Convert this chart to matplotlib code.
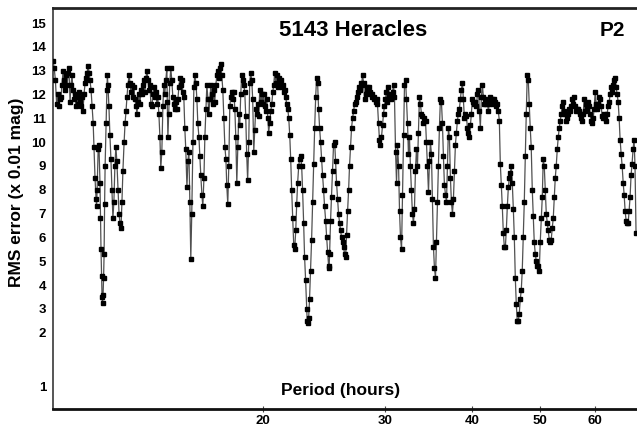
import matplotlib
matplotlib.use('Agg')
import matplotlib.pyplot as plt
import numpy as np
from matplotlib.ticker import FixedLocator, FixedFormatter, NullLocator

plt.rcParams['font.family'] = ['Liberation Sans', 'DejaVu Sans']

# period search result: trial period (hours) vs RMS error (x 0.01 mag)
period_h = [
    10.00, 10.04, 10.08, 10.12, 10.15, 10.19, 10.23,
    10.27, 10.30, 10.34, 10.37, 10.41, 10.44, 10.48, 10.51, 10.54, 10.58,
    10.61, 10.65, 10.68, 10.72, 10.75, 10.79, 10.83, 10.86, 10.90, 10.93,
    10.97, 11.01, 11.04, 11.08, 11.12, 11.16, 11.19, 11.23, 11.27, 11.30,
    11.34, 11.38, 11.42, 11.45, 11.49, 11.53, 11.55, 11.57, 11.61, 11.64, 11.68, 11.70,
    11.72, 11.74, 11.76, 11.78, 11.80, 11.82, 11.84, 11.86, 11.88, 11.92, 11.95, 11.97, 11.99, 12.03, 12.07,
    12.11, 12.15, 12.19, 12.23, 12.27, 12.31, 12.35, 12.40, 12.44, 12.48,
    12.52, 12.56, 12.60, 12.65, 12.69, 12.73, 12.77, 12.81, 12.86, 12.90,
    12.94, 12.98, 13.03, 13.07, 13.11, 13.16, 13.20, 13.24, 13.29, 13.33,
    13.37, 13.42, 13.46, 13.51, 13.55, 13.60, 13.64, 13.69, 13.73, 13.78,
    13.82, 13.87, 13.91, 13.96, 14.00, 14.05, 14.10, 14.14, 14.19, 14.24,
    14.28, 14.33, 14.38, 14.42, 14.47, 14.52, 14.57, 14.59, 14.62, 14.66, 14.71,
    14.76, 14.81, 14.86, 14.91, 14.96, 15.01, 15.06, 15.11, 15.16, 15.21,
    15.26, 15.31, 15.36, 15.41, 15.46, 15.51, 15.57, 15.62, 15.67, 15.72,
    15.77, 15.82, 15.88, 15.93, 15.98, 16.04, 16.09, 16.14, 16.20, 16.25,
    16.30, 16.36, 16.41, 16.47, 16.52, 16.58, 16.63, 16.69, 16.74, 16.80,
    16.85, 16.91, 16.96, 17.02, 17.07, 17.13, 17.19, 17.24, 17.30, 17.35,
    17.41, 17.47, 17.53, 17.59, 17.65, 17.71, 17.76, 17.82, 17.88, 17.94,
    18.00, 18.06, 18.12, 18.18, 18.24, 18.30, 18.36, 18.42, 18.48, 18.54,
    18.60, 18.66, 18.72, 18.79, 18.85, 18.91, 18.97, 19.03, 19.10, 19.16,
    19.22, 19.29, 19.35, 19.42, 19.48, 19.55, 19.61, 19.68, 19.74, 19.81,
    19.87, 19.94, 20.00, 20.07, 20.13, 20.20, 20.27, 20.34, 20.40, 20.47,
    20.54, 20.61, 20.68, 20.74, 20.81, 20.88, 20.95, 21.02, 21.09, 21.15,
    21.22, 21.29, 21.37, 21.44, 21.51, 21.58, 21.65, 21.73, 21.80, 21.87,
    21.94, 22.01, 22.09, 22.16, 22.23, 22.31, 22.38, 22.45, 22.53, 22.60,
    22.67, 22.75, 22.82, 22.90, 22.97, 23.05, 23.13, 23.17, 23.20, 23.28, 23.35,
    23.43, 23.51, 23.59, 23.67, 23.75, 23.83, 23.90, 23.98, 24.06, 24.14,
    24.22, 24.30, 24.38, 24.46, 24.54, 24.63, 24.71, 24.79, 24.87, 24.91, 24.95,
    25.03, 25.11, 25.20, 25.28, 25.37, 25.45, 25.53, 25.62, 25.70, 25.79,
    25.87, 25.96, 26.05, 26.13, 26.22, 26.31, 26.39, 26.48, 26.57, 26.65,
    26.74, 26.83, 26.92, 27.01, 27.10, 27.19, 27.28, 27.37, 27.46, 27.55,
    27.64, 27.73, 27.82, 27.92, 28.01, 28.10, 28.19, 28.28, 28.38, 28.47,
    28.56, 28.66, 28.75, 28.85, 28.94, 29.04, 29.14, 29.23, 29.33, 29.42,
    29.52, 29.62, 29.72, 29.82, 29.91, 30.01, 30.11, 30.21, 30.31, 30.41,
    30.51, 30.61, 30.72, 30.82, 30.92, 31.03, 31.13, 31.23, 31.34, 31.44,
    31.54, 31.65, 31.75, 31.86, 31.96, 32.07, 32.17, 32.28, 32.38, 32.49,
    32.59, 32.70, 32.81, 32.92, 33.03, 33.14, 33.25, 33.36, 33.47, 33.58,
    33.69, 33.80, 33.92, 34.03, 34.14, 34.26, 34.37, 34.48, 34.60, 34.71,
    34.82, 34.94, 35.05, 35.17, 35.29, 35.41, 35.52, 35.64, 35.76, 35.87,
    35.99, 36.11, 36.23, 36.35, 36.47, 36.60, 36.72, 36.84, 36.96, 37.08,
    37.20, 37.32, 37.45, 37.57, 37.70, 37.82, 37.94, 38.07, 38.19, 38.32,
    38.44, 38.57, 38.70, 38.83, 38.96, 39.09, 39.22, 39.35, 39.48, 39.61,
    39.74, 39.87, 40.00, 40.14, 40.27, 40.40, 40.54, 40.67, 40.81, 40.94,
    41.07, 41.21, 41.35, 41.48, 41.62, 41.76, 41.89, 42.03, 42.17, 42.30,
    42.44, 42.58, 42.73, 42.87, 43.01, 43.16, 43.30, 43.44, 43.58, 43.73,
    43.87, 44.02, 44.16, 44.31, 44.46, 44.61, 44.75, 44.90, 45.05, 45.19,
    45.34, 45.49, 45.64, 45.80, 45.95, 46.10, 46.25, 46.40, 46.56, 46.71,
    46.86, 47.02, 47.17, 47.33, 47.49, 47.65, 47.80, 47.96, 48.12, 48.27,
    48.43, 48.59, 48.76, 48.92, 49.08, 49.25, 49.41, 49.57, 49.73, 49.90,
    50.06, 50.23, 50.40, 50.56, 50.73, 50.90, 51.07, 51.24, 51.40, 51.57,
    51.74, 51.91, 52.09, 52.26, 52.44, 52.61, 52.78, 52.96, 53.13, 53.31,
    53.48, 53.66, 53.84, 54.02, 54.20, 54.38, 54.55, 54.73, 54.91, 55.09,
    55.27, 55.46, 55.64, 55.83, 56.01, 56.20, 56.38, 56.57, 56.75, 56.94,
    57.12, 57.31, 57.50, 57.70, 57.89, 58.08, 58.27, 58.46, 58.66, 58.85,
    59.04, 59.24, 59.44, 59.63, 59.83, 60.03, 60.23, 60.43, 60.62, 60.82,
    61.02, 61.23, 61.43, 61.64, 61.84, 62.05, 62.25, 62.46, 62.66, 62.87,
    63.07, 63.28, 63.50, 63.71, 63.92, 64.13, 64.34, 64.56, 64.77, 64.98,
    65.19, 65.41, 65.63, 65.85, 66.06, 66.28, 66.50, 66.72, 66.94, 67.15,
    67.37, 67.59, 67.82, 68.04, 68.26, 68.48, 68.71,
]

rms_err = [
    13.4, 13.1, 12.6, 11.6, 12.0, 11.5, 11.8,
    11.9, 12.4, 13.0, 12.6, 12.2, 12.8, 12.4, 12.9, 13.1, 11.7,
    12.4, 12.8, 12.2, 11.8, 12.0, 11.5, 11.9, 11.6, 12.1, 11.7,
    11.5, 11.9, 11.3, 12.0, 12.5, 12.7, 12.9, 13.2, 12.9, 12.6,
    12.2, 11.5, 10.8, 9.8, 8.5, 7.6, 7.3, 8.0, 9.7, 9.9, 8.3, 6.8,
    5.5, 4.4, 3.5, 3.25, 3.6, 4.3, 5.3, 7.4, 9.0, 10.8, 12.2, 12.8, 12.4, 11.5, 10.3,
    9.3, 8.0, 6.8, 7.5, 9.0, 9.8, 9.2, 8.0, 7.0, 6.6,
    6.4, 7.5, 8.8, 10.0, 10.8, 11.3, 11.9, 12.4, 12.8, 12.5,
    12.1, 12.4, 11.9, 12.3, 11.8, 11.5, 11.2, 11.7, 12.0, 11.6,
    12.2, 12.0, 12.4, 12.6, 12.1, 12.7, 13.0, 12.6, 12.2, 12.4,
    11.6, 11.5, 12.0, 12.3, 11.9, 12.1, 11.6, 11.9, 11.2, 10.2,
    8.9, 9.6, 11.5, 12.4, 12.0, 12.6, 13.1, 11.7, 10.2, 11.2, 12.5,
    13.1, 12.6, 11.9, 11.6, 11.4, 11.7, 11.4, 11.8, 12.3, 12.7,
    12.4, 12.6, 12.1, 11.9, 10.6, 9.7, 8.1, 9.2, 9.6, 7.5,
    5.1, 7.0, 10.0, 12.3, 12.8, 12.5, 11.8, 10.8, 10.2, 9.4,
    8.6, 7.8, 7.3, 8.5, 10.2, 11.4, 12.4, 11.8, 11.2, 11.8,
    12.4, 12.0, 11.6, 12.2, 11.7, 12.4, 12.8, 13.0, 12.7, 13.1,
    13.3, 12.8, 12.2, 11.0, 9.8, 9.3, 8.2, 7.4, 9.0, 11.5,
    11.9, 12.1, 11.8, 12.1, 11.4, 10.2, 8.3, 9.8, 11.2, 10.7,
    12.0, 12.8, 12.6, 12.4, 12.1, 11.1, 9.5, 8.4, 10.0, 12.5,
    12.9, 12.6, 11.8, 9.6, 10.5, 11.4, 11.2, 11.6, 11.1, 12.2,
    11.7, 12.0, 11.6, 12.0, 11.5, 11.3, 11.8, 11.0, 10.4, 10.8,
    11.3, 11.6, 12.1, 12.4, 12.9, 12.5, 12.8, 12.3, 12.7, 12.5,
    12.6, 12.3, 12.4, 12.1, 12.2, 11.9, 11.6, 11.4, 11.0, 10.3,
    9.3, 8.0, 6.8, 5.7, 5.5, 6.3, 7.4, 8.3, 9.0, 9.3,
    9.4, 9.0, 8.0, 6.6, 5.2, 4.2, 3.0, 2.5, 2.4, 2.6, 3.4,
    4.6, 5.9, 7.5, 9.1, 10.6, 11.9, 12.7, 12.5, 11.4, 10.6,
    10.0, 9.3, 8.6, 8.0, 7.3, 6.7, 6.0, 5.4, 4.8, 4.7, 5.3,
    6.7, 7.7, 8.8, 9.9, 10.0, 9.2, 8.3, 7.6, 7.0, 6.6,
    6.3, 6.0, 5.8, 5.6, 5.3, 5.2, 6.1, 7.1, 8.0, 9.0,
    9.8, 10.6, 11.0, 11.3, 11.6, 11.7, 11.9, 12.1, 12.3, 12.2,
    12.5, 12.4, 12.8, 12.5, 11.8, 12.0, 12.3, 12.1, 12.3, 12.0,
    12.1, 11.9, 12.0, 11.8, 11.9, 11.7, 11.8, 11.6, 10.8, 10.1,
    9.9, 10.2, 10.7, 11.2, 11.5, 11.8, 12.1, 11.7, 12.3, 11.9,
    12.0, 11.8, 12.1, 12.4, 11.9, 9.6, 8.3, 9.9, 9.0, 7.1,
    6.0, 5.5, 7.8, 10.3, 12.4, 12.6, 11.8, 10.8, 9.5, 10.2,
    9.0, 8.0, 7.0, 6.6, 7.2, 8.8, 9.7, 9.0, 10.4, 11.9,
    11.6, 11.2, 11.1, 10.8, 11.0, 10.9, 10.0, 9.0, 7.9, 9.2,
    10.0, 9.5, 7.6, 5.6, 4.7, 4.3, 5.8, 7.5, 9.0, 10.6,
    11.8, 11.7, 10.8, 9.4, 8.2, 7.8, 7.5, 9.0, 10.6, 10.2,
    8.5, 7.5, 7.0, 7.6, 8.8, 9.9, 10.4, 10.9, 11.2, 11.4,
    11.8, 12.2, 12.5, 11.8, 11.0, 11.2, 11.1, 10.6, 10.4, 10.2,
    10.7, 11.2, 11.8, 11.7, 11.6, 11.7, 11.5, 12.0, 12.2, 11.3,
    10.6, 11.9, 12.4, 11.9, 11.6, 11.8, 11.6, 11.7, 11.3, 11.6,
    11.9, 11.7, 11.8, 11.6, 11.8, 11.7, 11.5, 11.6, 11.3, 10.9,
    9.1, 8.2, 7.3, 6.2, 5.6, 5.6, 6.3, 7.3, 8.1, 8.5,
    8.7, 9.0, 8.3, 7.2, 6.0, 4.3, 3.2, 2.5, 2.5, 2.8,
    3.4, 3.8, 4.6, 6.0, 7.5, 9.4, 11.2, 12.8, 12.6, 11.6,
    10.6, 9.8, 8.0, 6.9, 5.8, 5.3, 5.0, 4.8, 4.8, 4.6,
    5.8, 6.8, 7.7, 9.3, 9.0, 8.0, 7.0, 6.6, 6.3, 5.9,
    5.8, 5.9, 6.4, 6.8, 7.7, 8.5, 9.0, 9.7, 10.2, 10.6,
    10.9, 11.2, 11.5, 11.7, 11.3, 11.2, 10.9, 11.0, 11.2, 11.4,
    11.3, 11.5, 11.8, 11.6, 11.9, 11.5, 11.3, 11.4, 11.4, 11.3,
    11.2, 11.0, 10.9, 11.2, 11.8, 11.3, 11.6, 11.4, 11.7, 11.5,
    11.2, 10.9, 10.8, 11.0, 11.4, 12.1, 11.6, 11.4, 11.6, 11.9,
    11.8, 11.5, 11.1, 11.0, 11.2, 11.0, 10.9, 11.2, 11.5, 11.7,
    12.0, 12.3, 12.1, 12.4, 12.6, 12.7, 12.3, 12.0, 11.7, 11.0,
    10.1, 9.5, 9.0, 8.3, 7.8, 7.1, 6.7, 6.6, 6.6, 7.1,
    7.7, 8.6, 9.1, 9.7, 10.1, 9.0, 6.2,
]

x_ticks = [20, 30, 40, 50, 60]
y_ticks = [1, 2, 3, 4, 5, 6, 7, 8, 9, 10, 11, 12, 13, 14, 15]

assert len(period_h) == len(rms_err)


# the program's y axis is linear above 2, and the 1-2 step is stretched
def _fwd(v):
    v = np.asarray(v, dtype=float)
    return np.where(v >= 2, v, 2 - (2 - v) * 2.27)


def _inv(u):
    u = np.asarray(u, dtype=float)
    return np.where(u >= 2, u, 2 - (2 - u) / 2.27)


fig = plt.figure(figsize=(6.37, 4.30), dpi=100)
ax = fig.add_axes([53 / 637, 21 / 430, 1 - 53 / 637, 401 / 430])

ax.plot(period_h, rms_err, color='#505050', linewidth=0.9, zorder=2)
ax.plot(period_h, rms_err, linestyle='none', marker='s', markersize=2.2,
        color='black', zorder=3)

ax.set_xscale('log')
ax.set_yscale('function', functions=(_fwd, _inv))
ax.set_xlim(10.0, 68.93)
ax.set_ylim(0.59, 15.63)

ax.xaxis.set_major_locator(FixedLocator(x_ticks))
ax.xaxis.set_major_formatter(FixedFormatter([str(t) for t in x_ticks]))
ax.xaxis.set_minor_locator(NullLocator())
ax.yaxis.set_major_locator(FixedLocator(y_ticks))
ax.yaxis.set_major_formatter(FixedFormatter([str(t) for t in y_ticks]))
ax.yaxis.set_minor_locator(NullLocator())

ax.tick_params(axis='x', direction='inout', length=5, width=0.8, color='#444444',
               labelsize=9.5, pad=1.5)
ax.tick_params(axis='y', length=0, labelsize=9.5, pad=5)
for lab in ax.get_xticklabels() + ax.get_yticklabels():
    lab.set_fontweight('bold')

ax.spines['right'].set_visible(False)
ax.spines['top'].set_linewidth(2.0)
ax.spines['top'].set_color('#222222')
ax.spines['bottom'].set_linewidth(2.0)
ax.spines['bottom'].set_color('#111111')
ax.spines['left'].set_linewidth(1.4)
ax.spines['left'].set_color('#555555')

fig.text(353 / 637, 1 - 31 / 430, '5143 Heracles', ha='center', va='center',
         fontsize=16, fontweight='bold')
fig.text(612 / 637, 1 - 31 / 430, 'P2', ha='center', va='center',
         fontsize=15, fontweight='bold')
fig.text(341 / 637, 1 - 391 / 430, 'Period (hours)', ha='center', va='center',
         fontsize=12.5, fontweight='bold')
fig.text(17 / 637, 1 - 192 / 430, 'RMS error (x 0.01 mag)', ha='center',
         va='center', rotation=90, fontsize=12.5, fontweight='bold')

fig.savefig('out.png', dpi=100)
